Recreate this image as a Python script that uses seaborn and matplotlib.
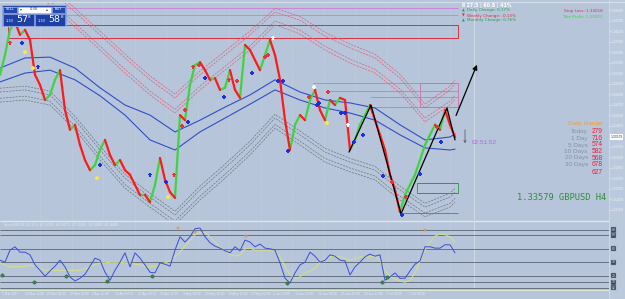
import numpy as np
import pandas as pd
import matplotlib
matplotlib.use("Agg")
import matplotlib.pyplot as plt
import seaborn as sns
from matplotlib.patches import Rectangle
from matplotlib.lines import Line2D

# ---------------- data ----------------
close = [1.3506, 1.3553, 1.3613, 1.3632, 1.3601, 1.3613, 1.3589, 1.3506, 1.3482, 1.3446,
         1.3458, 1.3494, 1.3517, 1.3422, 1.3375, 1.3387, 1.3339, 1.3303, 1.3279, 1.3291,
         1.3327, 1.3351, 1.3315, 1.3291, 1.3303, 1.3279, 1.3268, 1.3244, 1.3220, 1.3220,
         1.3203, 1.3244, 1.3308, 1.3256, 1.3227, 1.3213, 1.3410, 1.3398, 1.3482, 1.3529,
         1.3536, 1.3517, 1.3494, 1.3498, 1.3470, 1.3475, 1.3517, 1.3470, 1.3451, 1.3577,
         1.3565, 1.3541, 1.3517, 1.3553, 1.3589, 1.3553, 1.3494, 1.3398, 1.3327, 1.3387,
         1.3410, 1.3398, 1.3446, 1.3470, 1.3422, 1.3398, 1.3446, 1.3434, 1.3451, 1.3446,
         1.3327, 1.3351, 1.3387, 1.3410, 1.3434, 1.3398, 1.3363, 1.3327, 1.3268, 1.3232,
         1.3179, 1.3220, 1.3244, 1.3268, 1.3303, 1.3339, 1.3363, 1.3387, 1.3375, 1.3422,
         1.3387, 1.3358]

band_bars = [0, 5, 10, 15, 20, 25, 30, 35, 40, 45, 50, 55, 60, 65, 70, 75, 80, 85, 90, 91]
blue_upper = [1.3522, 1.3546, 1.3548, 1.3522, 1.3475, 1.3434, 1.3410, 1.3370, 1.3398, 1.3429,
              1.3458, 1.3494, 1.3465, 1.3446, 1.3439, 1.3427, 1.3387, 1.3351, 1.3358, 1.3365]
blue_lower = [1.3489, 1.3510, 1.3517, 1.3494, 1.3456, 1.3410, 1.3351, 1.3327, 1.3370, 1.3403,
              1.3436, 1.3470, 1.3446, 1.3427, 1.3415, 1.3398, 1.3363, 1.3332, 1.3327, 1.3329]
red_outer = [1.3779, 1.3755, 1.3708, 1.3655, 1.3601, 1.3546, 1.3494, 1.3451, 1.3506, 1.3553,
             1.3601, 1.3655, 1.3636, 1.3598, 1.3570, 1.3546, 1.3498, 1.3427, 1.3470, 1.3484]
red_inner = [1.3744, 1.3720, 1.3672, 1.3620, 1.3565, 1.3510, 1.3458, 1.3415, 1.3470, 1.3517,
             1.3565, 1.3625, 1.3603, 1.3565, 1.3534, 1.3510, 1.3463, 1.3394, 1.3434, 1.3448]
gray_inner = [1.3465, 1.3470, 1.3458, 1.3398, 1.3327, 1.3260, 1.3215, 1.3172, 1.3232, 1.3284,
              1.3339, 1.3403, 1.3363, 1.3322, 1.3298, 1.3279, 1.3232, 1.3191, 1.3215, 1.3227]
gray_outer = [1.3441, 1.3446, 1.3434, 1.3375, 1.3303, 1.3236, 1.3191, 1.3149, 1.3208, 1.3260,
              1.3315, 1.3379, 1.3339, 1.3298, 1.3275, 1.3256, 1.3208, 1.3168, 1.3191, 1.3203]

zigzag_x = [349, 371, 401, 447, 455]
zigzag_p = [1.3322, 1.3434, 1.3175, 1.3427, 1.3351]

blue_mk_x = [22, 38, 100, 150, 166, 188, 205, 224, 252, 278, 283, 288, 317, 319, 341, 345, 354, 363, 383, 402, 420, 441]
blue_mk_p = [1.3582, 1.3525, 1.3291, 1.3268, 1.3251, 1.3394, 1.3498, 1.3453, 1.3510, 1.3491, 1.3491,
             1.3325, 1.3434, 1.3439, 1.3415, 1.3415, 1.3346, 1.3363, 1.3265, 1.3172, 1.3270, 1.3346]
red_mk_x = [10, 174, 182, 185, 193, 199, 229, 237, 265, 268, 309, 328, 392, 406, 437]
red_mk_p = [1.3582, 1.3268, 1.3384, 1.3422, 1.3525, 1.3529, 1.3494, 1.3491, 1.3548, 1.3553,
            1.3453, 1.3465, 1.3251, 1.3215, 1.3382]
yel_mk_x = [25, 33, 97, 168, 327]
yel_mk_p = [1.3560, 1.3522, 1.3260, 1.3215, 1.3391]
wht_mk_x = [273, 314, 348]
wht_mk_p = [1.3594, 1.3477, 1.3387]

top_lines = [1.3665, 1.3648]
red_zone = [1.3593, 1.3624]
res_start = [313, 327, 370, 370]
res_levels = [1.3486, 1.3467, 1.3453, 1.3429]
sup_start = [417, 417, 400]
sup_levels = [1.3248, 1.3225, 1.3177]

price_ticks = [1.3185, 1.3210, 1.3235, 1.3260, 1.3285, 1.3310, 1.3335, 1.3360, 1.3385, 1.3410,
               1.3435, 1.3460, 1.3485, 1.3510, 1.3535, 1.3560, 1.3585, 1.3610, 1.3635, 1.3660]
last_price = 1.33579

osc = [43, 40, 58, 63, 55, 55, 51, 36, 28, 19,
       27, 34, 43, 33, 18, 12, 16, 22, 34, 46,
       43, 25, 13, 28, 40, 54, 33, 54, 46, 36,
       25, 24, 39, 37, 34, 58, 78, 70, 78, 90,
       91, 78, 69, 64, 61, 57, 54, 63, 57, 73,
       70, 63, 67, 61, 60, 58, 39, 16, 9, 24,
       36, 40, 55, 49, 40, 43, 51, 49, 43, 42,
       21, 33, 40, 48, 52, 49, 51, 13, 18, 24,
       16, 16, 27, 37, 42, 63, 63, 61, 61, 66,
       66, 54]
signal = [39, 36, 33, 33, 33, 34, 36, 34, 31, 28,
          28, 28, 28, 28, 28, 28, 28, 30, 33, 36,
          39, 39, 40, 40, 40, 39, 39, 37, 36, 34,
          33, 34, 37, 39, 42, 48, 55, 64, 73, 81,
          84, 84, 78, 70, 63, 57, 51, 49, 51, 60,
          61, 58, 58, 58, 58, 57, 48, 34, 21, 16,
          18, 24, 27, 31, 40, 45, 48, 49, 48, 46,
          43, 45, 48, 48, 49, 48, 43, 28, 19, 15,
          12, 10, 13, 24, 42, 58, 70, 79, 82, 81,
          78, 70]
osc_levels = [88, 80, 60, 40, 20, 10, 2]
star_x = [178, 195, 246, 425]
star_v = [91, 85, 79, 88]
dot_x = [2, 34, 66, 107, 152, 287, 382, 387]
dot_v = [21, 10, 19, 12, 19, 9, 10, 18]

time_labels = ["1 Mar 2017", "13 Mar 12:00", "20 Mar 04:00", "27 Mar 20:00", "3 Apr 12:00",
               "10 Apr 04:00", "17 Apr 20:00", "25 Apr 12:00", "3 May 04:00", "10 May 20:00",
               "18 May 12:00", "25 May 04:00", "1 Jun 20:00", "9 Jun 12:00", "16 Jun 04:00",
               "23 Jun 20:00", "28 Jun 12:00", "3 Jul 08:00", "7 Jul 04:00"]

range_labels = ["Today", "1 Day", "5 Days", "10 Days", "20 Days", "30 Days", ""]
range_values = ["279", "716", "574", "582", "568", "678", "627"]

# ---------------- style ----------------
sns.set_theme(style="white")
plt.rcParams['font.family'] = ['DejaVu Sans']

BG = '#B6C5D9'
W, H = 625, 299
BAR = 5
RED, GREEN = '#FF1A1A', '#3FD43F'
NARROW = ['Liberation Sans']

fig = plt.figure(figsize=(6.25, 2.99), dpi=100, facecolor=BG)


def frect(x0, y0, x1, y1):
    return [x0 / W, 1 - y1 / H, (x1 - x0) / W, (y1 - y0) / H]


def T(x, y, s, **kw):
    fig.text(x / W, 1 - y / H, s, **kw)


def FR(x0, y0, x1, y1, **kw):
    fig.add_artist(Rectangle((x0 / W, 1 - y1 / H), (x1 - x0) / W, (y1 - y0) / H,
                             transform=fig.transFigure, **kw))


# right price strip (behind the axes)
FR(609, 0, 625, 299, fc='#BBC9DC', ec='none', zorder=-10)

ax = fig.add_axes(frect(0, 3, 609, 220))
axi = fig.add_axes(frect(0, 222, 609, 289))
for a in (ax, axi):
    a.set_facecolor(BG)
    for s in a.spines.values():
        s.set_visible(False)
    a.set_xlim(0, 609)

ax.set_ylim(1.31604, 1.36768)
axi.set_ylim(0, 100)

# vertical grid
for a in (ax, axi):
    for k in range(14):
        a.axvline(40 + 31.5 * k, color='#CBD6E4', lw=0.5, ls=(0, (1, 1.5)), zorder=0)
    a.axvline(474, color='#D2DCE8', lw=0.7, zorder=0)

# horizontal zones
bx = np.array(band_bars) * BAR
ax.hlines(top_lines, 66, 458, color='#C880D8', lw=0.6, zorder=1)
ax.add_patch(Rectangle((8, red_zone[0]), 450, red_zone[1] - red_zone[0], fill=False,
                       ec='#D83040', lw=0.7, zorder=1))
for xs, lv in zip(res_start, res_levels):
    ax.hlines(lv, xs, 458, color='#C070B8', lw=0.5, zorder=1)
ax.add_patch(Rectangle((420, res_levels[3]), 38, res_levels[0] - res_levels[3], fill=False,
                       ec='#D070A8', lw=0.6, zorder=1))
for xs, lv in zip(sup_start, sup_levels):
    ax.hlines(lv, xs, 458, color='#2E9A3E', lw=0.6, zorder=1)
ax.add_patch(Rectangle((417, sup_levels[1]), 41, sup_levels[0] - sup_levels[1], fill=False,
                       ec='#2E9A3E', lw=0.6, zorder=1))

# envelope bands
PAIR = 0.0009
for series, col in ((red_outer, '#E0607A'), (red_inner, '#E0607A'),
                    (gray_inner, '#6E7884'), (gray_outer, '#6E7884')):
    for off in (0, PAIR):
        sns.lineplot(x=bx, y=np.array(series) + off, ax=ax, color=col, lw=0.5,
                     linestyle=(0, (3, 1.5)), estimator=None, sort=False, zorder=2)
for series in (blue_upper, blue_lower):
    sns.lineplot(x=bx, y=series, ax=ax, color='#2F4FC8', lw=0.8, estimator=None,
                 sort=False, zorder=2)

# price segments coloured by direction
px = np.arange(len(close)) * BAR
rows = []
for i in range(1, len(close)):
    d = 'up' if close[i] >= close[i - 1] else 'down'
    rows += [(i, px[i - 1], close[i - 1], d), (i, px[i], close[i], d)]
seg = pd.DataFrame(rows, columns=['seg', 'x', 'price', 'dir'])
sns.lineplot(data=seg, x='x', y='price', hue='dir', units='seg', estimator=None,
             palette={'up': GREEN, 'down': RED}, lw=1.6, legend=False, ax=ax,
             sort=False, zorder=3)

# zigzag and arrows
sns.lineplot(x=zigzag_x, y=zigzag_p, ax=ax, color='black', lw=0.9, estimator=None,
             sort=False, zorder=4)
ax.annotate('', xy=(478, 1.3536), xytext=(455, 1.3403),
            arrowprops=dict(arrowstyle='-|>', color='black', lw=0.9, mutation_scale=7), zorder=4)
ax.annotate('', xy=(465, 1.3336), xytext=(465, 1.3382),
            arrowprops=dict(arrowstyle='->', color='#5A6470', lw=0.6, mutation_scale=4), zorder=4)

# markers
sns.scatterplot(x=blue_mk_x, y=blue_mk_p, ax=ax, marker='P', s=9, color='#1830E0', ec='none', zorder=5)
sns.scatterplot(x=red_mk_x, y=red_mk_p, ax=ax, marker='P', s=8, color='#E03838', ec='none', zorder=5)
sns.scatterplot(x=yel_mk_x, y=yel_mk_p, ax=ax, marker='o', s=8, color='#F4EC40', ec='none', zorder=5)
sns.scatterplot(x=wht_mk_x, y=wht_mk_p, ax=ax, marker='P', s=9, color='white', ec='none', zorder=5)

# right price axis
ax.yaxis.tick_right()
ax.set_yticks(price_ticks)
ax.set_yticklabels([f'{v:.5f}' for v in price_ticks], family=NARROW)
ax.tick_params(axis='y', labelsize=2.4, colors='#EEF2F8', length=1.2, width=0.4, pad=0.8)
ax.set_xticks([])
ax.set_xlabel('')
ax.set_ylabel('')
ax.text(610.5, last_price, f'{last_price:.5f}', transform=ax.transData, fontsize=2.4,
        color='#2A3A4A', va='center', ha='left', clip_on=False, family=NARROW, zorder=10,
        bbox=dict(boxstyle='square,pad=0.2', fc='white', ec='none'))

# indicator panel
ix = np.arange(len(osc)) * BAR
axi.hlines(osc_levels, 0, 609, color='#5A6470', lw=0.6, zorder=1)
sns.lineplot(x=ix, y=signal, ax=axi, color='#D6E27C', lw=0.7, estimator=None, sort=False, zorder=2)
sns.lineplot(x=ix, y=osc, ax=axi, color='#3A4ED8', lw=0.7, estimator=None, sort=False, zorder=3)
sns.scatterplot(x=star_x, y=star_v, ax=axi, marker='*', s=10, color='#F09030', ec='none', zorder=4)
sns.scatterplot(x=dot_x, y=dot_v, ax=axi, marker='o', s=6, color='#2E8B3A', ec='#1A4A20', lw=0.2, zorder=4)
axi.set_xticks([])
axi.set_yticks([])
axi.set_xlabel('')
axi.set_ylabel('')
axi.text(4, 95, 'StochRSI(14,14,3,3)  41.2035  60.8172  27.3260  38.2000  61.8000',
         fontsize=2.4, color='#E6ECF4', va='center')
for lv in osc_levels:
    axi.text(612, lv, f'{lv:02d}', transform=axi.transData, fontsize=2.4, va='center',
             color='#DDE4EC', clip_on=False, zorder=10, family=NARROW,
             bbox=dict(boxstyle='square,pad=0.2', fc='#3A4656', ec='#8FA0B0', lw=0.3))

# panel separators / frame
fig.add_artist(Line2D([0, 609 / W], [1 - 221 / H] * 2, color='#DCE5F0', lw=1.0))
fig.add_artist(Line2D([0, 609 / W], [1 - 289.5 / H] * 2, color='#D8E6D2', lw=0.8))
fig.add_artist(Line2D([609 / W] * 2, [0, 1], color='#D0DAE6', lw=0.6))
fig.add_artist(Line2D([0, 1], [1 - 1.5 / H] * 2, color='#D6DEEA', lw=0.8))

# time axis labels
for k, lab in enumerate(time_labels):
    T(2 + 22.6 * k, 294, lab, fontsize=2.3, color='#E8EDF5', va='center', ha='left', family=NARROW)

# one-click trading panel
FR(2, 5, 66, 26, fc='#2C4FAE', ec='#9DB4E8', lw=0.5)
FR(3, 6.5, 17, 12.5, fc='#2448B0', ec='#C0D0F0', lw=0.4)
FR(18, 6.5, 51, 12.5, fc='white', ec='#C0D0F0', lw=0.4)
FR(52, 6.5, 65, 12.5, fc='#2448B0', ec='#C0D0F0', lw=0.4)
FR(3, 13.5, 33.5, 25.5, fc='#1E40A4', ec='#C0D0F0', lw=0.4)
FR(35, 13.5, 65, 25.5, fc='#1E40A4', ec='#C0D0F0', lw=0.4)
T(10, 9.5, 'SELL', fontsize=2.6, color='white', ha='center', va='center')
T(58.5, 9.5, 'BUY', fontsize=2.6, color='white', ha='center', va='center')
T(21, 9.5, '\u25be', fontsize=2.8, color='#304070', ha='center', va='center')
T(47, 9.5, '\u25b4', fontsize=2.8, color='#304070', ha='center', va='center')
T(34, 9.5, '0.30', fontsize=2.6, color='#203050', ha='center', va='center')
T(10, 21, '1.33', fontsize=2.6, color='white', ha='center', va='center')
T(22, 19.5, '57', fontsize=6.8, color='white', ha='center', va='center')
T(29.5, 16.5, '8', fontsize=3, color='white', ha='center', va='center')
T(42, 21, '1.33', fontsize=2.6, color='white', ha='center', va='center')
T(54.5, 19.5, '58', fontsize=6.8, color='white', ha='center', va='center')
T(62, 16.5, '8', fontsize=3, color='white', ha='center', va='center')

# top info texts
T(462, 5.5, '\u2161 27.3 | 60.8 | 41%', fontsize=3.4, color='white', fontweight='bold', va='center')
T(462, 10.5, '\u25b2', fontsize=2.6, color='#2E9A55', va='center')
T(467, 10.5, 'Daily Change: 0.17%', fontsize=3.0, color='#2E9A55', va='center')
T(462, 15.5, '\u25bc', fontsize=2.6, color='#D83040', va='center')
T(467, 15.5, 'Weekly Change: -0.13%', fontsize=3.0, color='#D83040', va='center')
T(462, 20.5, '\u25b2', fontsize=2.6, color='#2E9A55', va='center')
T(467, 20.5, 'Monthly Change: 0.76%', fontsize=3.0, color='#2E9A55', va='center')
T(603, 10.7, 'Stop Loss: 1.34018', fontsize=3.0, color='#E83048', ha='right', va='center')
T(603, 16.7, 'Take Profit: 1.33002', fontsize=3.0, color='#30E030', ha='right', va='center')

# daily range block
T(603, 124, 'Daily Range', fontsize=4.6, color='#F0A030', ha='right', va='center', family=NARROW)
ry = [132, 138.5, 145, 151.5, 158, 164.5, 173]
for y, lab, val in zip(ry, range_labels, range_values):
    T(588, y, lab, fontsize=4.6, color='#8392A6', ha='right', va='center', family=NARROW)
    T(603, y, val, fontsize=4.8, color='#E8203C', ha='right', va='center', family=NARROW)

T(472, 143, '02:51:52', fontsize=4.6, color='#A46ED6', va='center', family=NARROW)
T(606, 198, f'{last_price:.5f} GBPUSD H4', fontsize=6.3, color='#2F8F3A', ha='right', va='center',
  family=['DejaVu Sans Mono'])

fig.savefig('out.png', dpi=100, facecolor=BG)
